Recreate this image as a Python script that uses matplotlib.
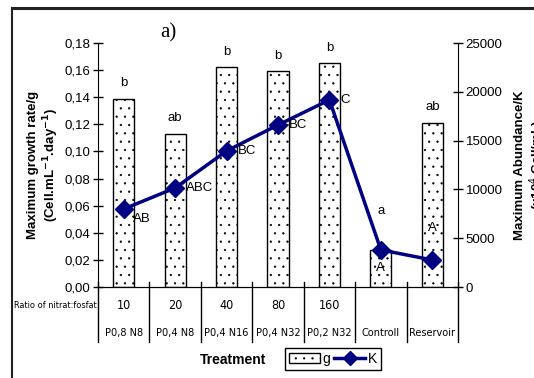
import matplotlib
matplotlib.use("Agg")
import matplotlib.pyplot as plt
from matplotlib.lines import Line2D
from matplotlib.patches import Patch
from matplotlib.ticker import FuncFormatter, MultipleLocator
import matplotlib.transforms as mtransforms

plt.rcParams['font.family'] = ['Liberation Sans', 'DejaVu Sans']
plt.rcParams['hatch.linewidth'] = 0.4
plt.rcParams['hatch.color'] = '#555555'

treatments = ["P0,8 N8", "P0,4 N8", "P0,4 N16", "P0,4 N32", "P0,2 N32", "Controll", "Reservoir"]
ratios = ["10", "20", "40", "80", "160", "", ""]
g = [0.139, 0.113, 0.162, 0.159, 0.165, 0.027, 0.121]
K = [7990, 10150, 13940, 16600, 19170, 3800, 2770]
g_letters = ["b", "ab", "b", "b", "b", "a", "ab"]
K_letters = ["AB", "ABC", "BC", "BC", "C", "A", "A"]

W, H = 534, 378
fig = plt.figure(figsize=(W / 100, H / 100), dpi=100)
ax = fig.add_axes([98 / W, 1 - 287 / H, 360 / W, 244 / H])
x = list(range(len(treatments)))

ax.bar(x, g, width=0.41, color='white', edgecolor='black', linewidth=1.0, hatch='..', zorder=2)
ax.set_xlim(-0.5, 6.5)
ax.set_ylim(0, 0.18)
ax.yaxis.set_major_locator(MultipleLocator(0.02))
ax.yaxis.set_major_formatter(FuncFormatter(lambda v, p: f"{v:.2f}".replace(".", ",")))
ax.set_xticks([])
ax.spines['top'].set_visible(False)
ax.spines['right'].set_visible(False)
ax.tick_params(axis='y', direction='inout', length=7, width=1, labelsize=9.5, pad=2)

# g letters above bars
g_off = [7, 7, 7, 7, 7, 24, 7]
for xi, v, lab, off in zip(x, g, g_letters, g_off):
    ax.annotate(lab, (xi, v), xytext=(0, off), textcoords='offset points',
                ha='center', va='bottom', fontsize=9.5)

ax2 = ax.twinx()
ax2.plot(x, K, color='#000080', lw=2.5, marker='D', markersize=9, zorder=3)
ax2.set_ylim(0, 25000)
ax2.yaxis.set_major_locator(MultipleLocator(5000))
ax2.spines['top'].set_visible(False)
ax2.spines['left'].set_visible(False)
ax2.tick_params(axis='y', direction='inout', length=7, width=1, labelsize=9.5, pad=2)

k_off = [(7, -7), (8, 0), (8, 0), (8, 0), (8, 0), (0, -13), (0, 23)]
k_ha = ['left', 'left', 'left', 'left', 'left', 'center', 'center']
for xi, v, lab, off, ha in zip(x, K, K_letters, k_off, k_ha):
    ax2.annotate(lab, (xi, v), xytext=off, textcoords='offset points',
                 ha=ha, va='center', fontsize=9.5)

# table under the axis
trans = mtransforms.blended_transform_factory(ax.transData, ax.transAxes)
for b in [i - 0.5 for i in range(len(treatments) + 1)]:
    ax.plot([b, b], [0.02, -0.225], color='black', lw=1, transform=trans, clip_on=False)
for xi, r, t in zip(x, ratios, treatments):
    ax.text(xi, -0.074, r, transform=trans, ha='center', va='center', fontsize=9,
            family='DejaVu Sans', fontstretch='condensed')
    ax.text(xi, -0.189, t, transform=trans, ha='center', va='center', fontsize=7.8,
            family='DejaVu Sans', fontstretch='condensed')
fig.text(55 / W, 1 - 305 / H, "Ratio of nitrat:fosfat", ha='center', va='center', fontsize=6.6,
         family='DejaVu Sans', fontstretch='condensed')

fig.text(233 / W, 1 - 360 / H, "Treatment", ha='center', va='center', fontsize=10, fontweight='bold')
fig.text(168 / W, 1 - 33 / H, "a)", ha='center', va='center', fontsize=15, family='Liberation Serif')

fig.text(33 / W, 1 - 165 / H, "Maximum growth rate/g", rotation=90, ha='center', va='center',
         fontsize=9.5, fontweight='bold')
fig.text(51 / W, 1 - 165 / H, "(Cell.mL$^{\\mathbf{-1}}$.day$^{\\mathbf{-1}}$)", rotation=90, ha='center',
         va='center', fontsize=9.5, fontweight='bold')
fig.text(520 / W, 1 - 165 / H, "Maximum Abundance/K", rotation=90, ha='center', va='center',
         fontsize=9.5, fontweight='bold')
fig.text(538 / W, 1 - 165 / H, "(x10$^{4}$ Cell/mL)", rotation=90, ha='center', va='center',
         fontsize=9.5, fontweight='bold')

handles = [Patch(facecolor='white', edgecolor='black', hatch='..', label='g'),
           Line2D([], [], color='#000080', lw=2.5, marker='D', markersize=7, label='K')]
leg = fig.legend(handles=handles, loc='center', bbox_to_anchor=(333 / W, 1 - 359 / H), ncol=2,
                 fontsize=10, fancybox=False, edgecolor='black', framealpha=1,
                 handlelength=2.2, handletextpad=0.2, columnspacing=0.3, borderpad=0.3)
leg.get_frame().set_linewidth(1)

# outer frame
fig.add_artist(Line2D([12 / W, 1.0], [1 - 8 / H, 1 - 8 / H], color='#222222', lw=2.2, transform=fig.transFigure))
fig.add_artist(Line2D([12 / W, 12 / W], [0, 1 - 8 / H], color='#222222', lw=1.5, transform=fig.transFigure))

fig.savefig("out.png", dpi=100)
